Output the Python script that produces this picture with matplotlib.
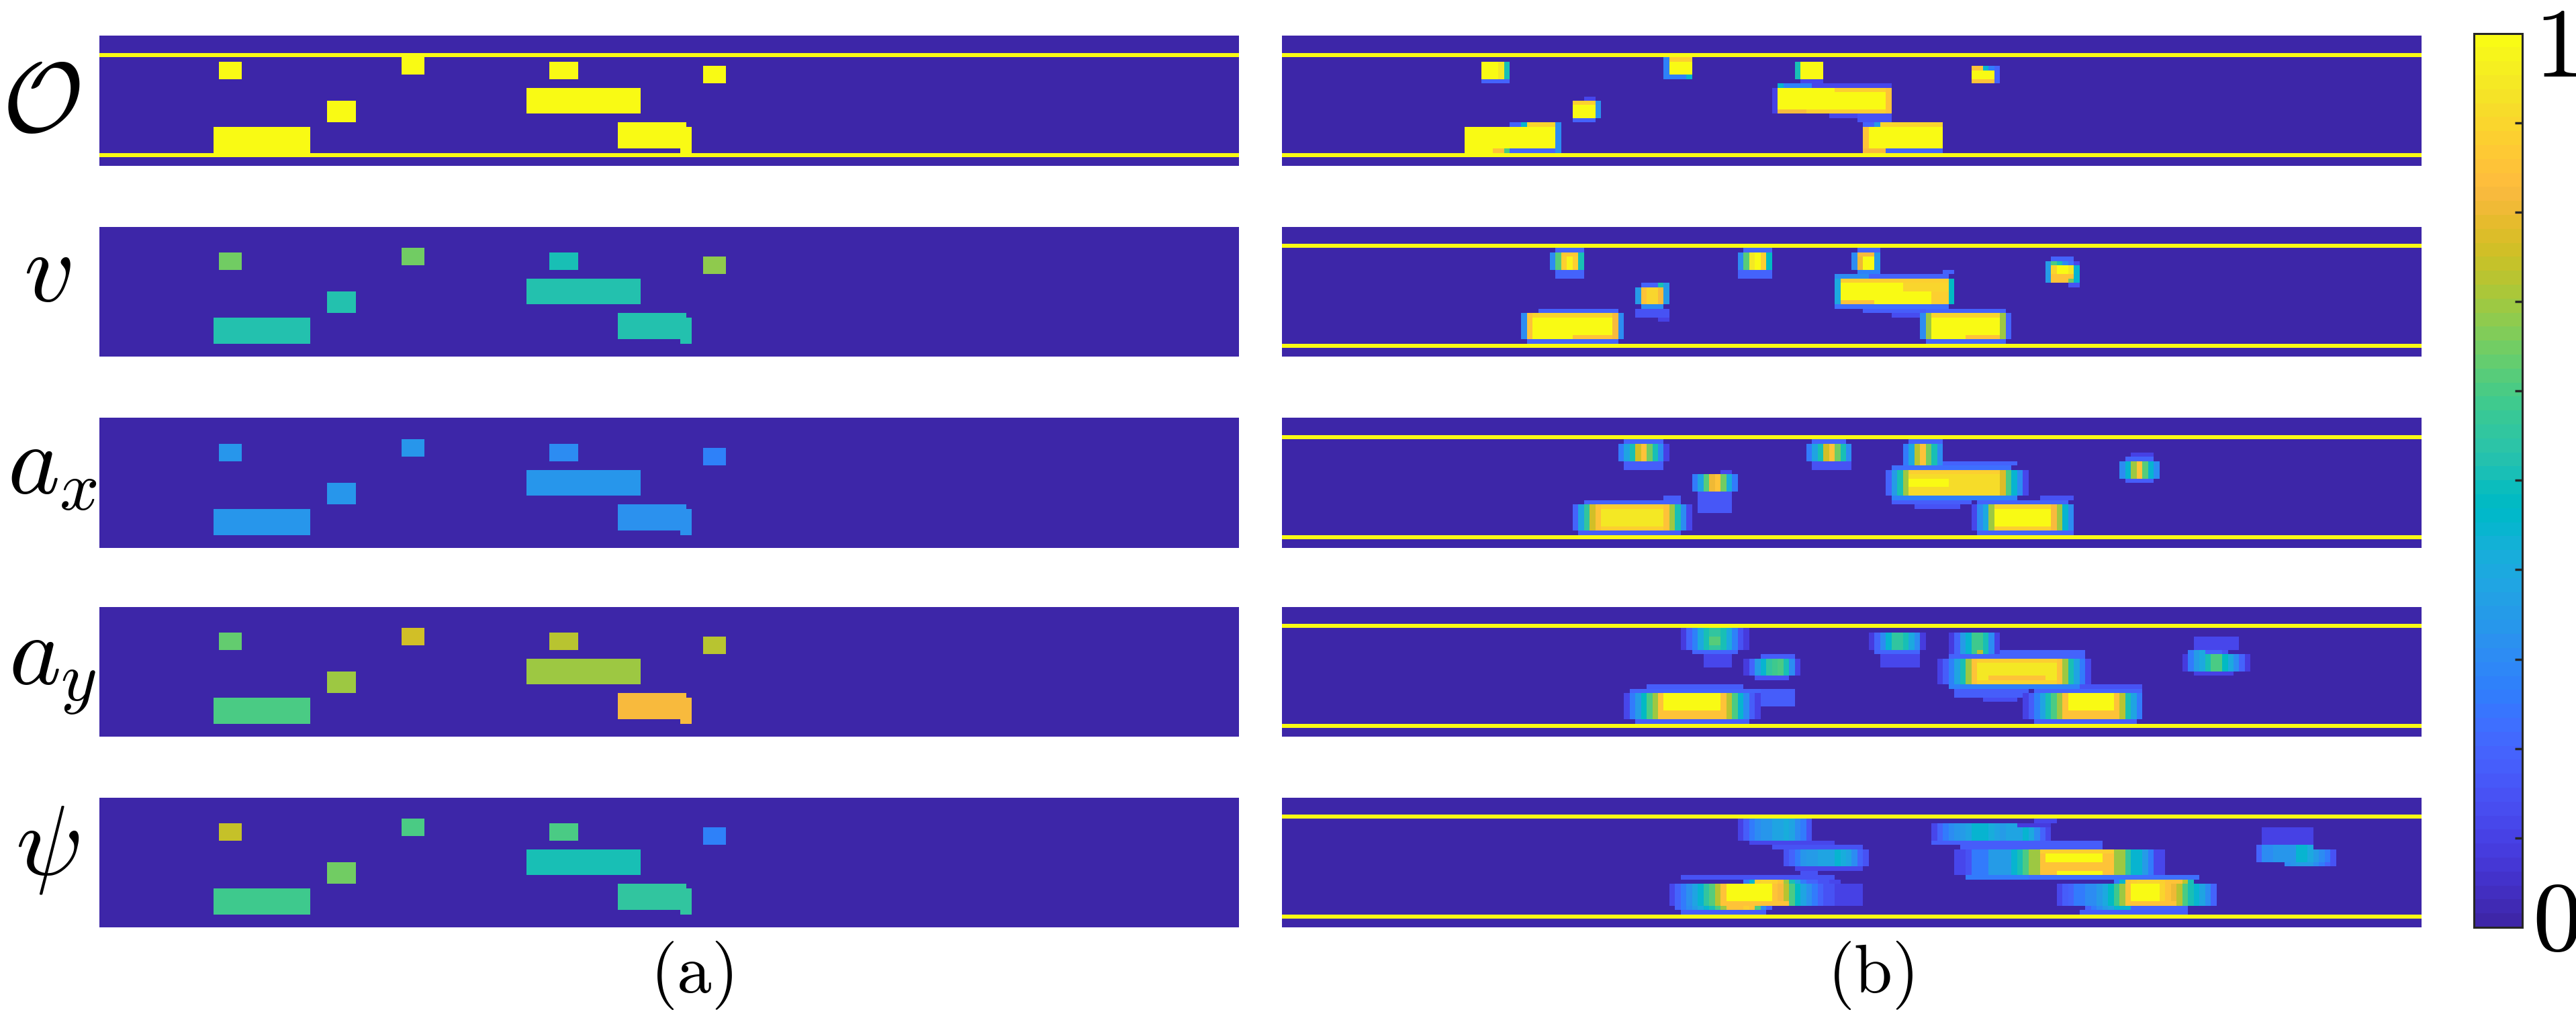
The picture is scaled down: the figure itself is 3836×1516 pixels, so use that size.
import numpy as np
import matplotlib
matplotlib.use('Agg')
import matplotlib.pyplot as plt
from matplotlib.colors import ListedColormap, Normalize
import matplotlib.cm as mcm

plt.rcParams['mathtext.fontset'] = 'cm'
plt.rcParams['font.family'] = ['DejaVu Serif']

# ---------------- data ----------------
N_ROWS, N_COLS = 30, 200
BORDER_ROWS = [4, 27]

row_labels = [r'$\mathcal{O}$', r'$v$', r'$a_x$', r'$a_y$', r'$\psi$']
col_labels = [r'$\mathrm{(a)}$', r'$\mathrm{(b)}$']
cbar_labels = [r'$0$', r'$1$']
cbar_ticks = [0.1, 0.2, 0.3, 0.4, 0.5, 0.6, 0.7, 0.8, 0.9]

# ground-truth vehicle boxes (row0, row1, col0, col1), inclusive
vehicle_boxes = [(6, 9, 21, 24), (5, 8, 53, 56), (6, 9, 79, 83), (7, 10, 106, 109),
                 (15, 19, 40, 44), (21, 26, 20, 36), (12, 17, 75, 94),
                 (20, 25, 91, 102), (21, 26, 102, 103)]
occ_vals = [1.0, 1.0, 1.0, 1.0, 1.0, 1.0, 1.0, 1.0, 1.0]
v_vals = [0.65, 0.65, 0.50, 0.68, 0.53, 0.53, 0.53, 0.53, 0.53]
ax_vals = [0.34, 0.34, 0.31, 0.28, 0.33, 0.33, 0.33, 0.32, 0.32]
ay_vals = [0.64, 0.75, 0.72, 0.72, 0.70, 0.60, 0.70, 0.82, 0.82]
psi_vals = [0.74, 0.60, 0.60, 0.28, 0.65, 0.59, 0.50, 0.56, 0.56]
truth_vals = [occ_vals, v_vals, ax_vals, ay_vals, psi_vals]

# predicted maps: (r0, r1, c0, c1, value) rectangles or (r0, r1, c0, [values]) strips, painted in order
pred_occ = [
    (10, 10, 35, 39, 0.2),
    (9, 9, 67, 70, 0.28), (9, 9, 71, 71, 0.45),
    (10, 10, 91, 94, 0.12),
    (11, 11, 87, 87, 0.45), (11, 11, 88, 92, 0.28), (11, 11, 93, 106, 0.12),
    (18, 18, 96, 106, 0.12), (12, 17, 86, 86, 0.1),
    (14, 14, 53, 54, 0.12), (19, 19, 51, 54, 0.2),
    (18, 19, 101, 106, 0.15),
    (20, 26, 48, 48, 0.3), (20, 20, 40, 41, 0.2), (20, 20, 42, 42, 0.45), (20, 20, 43, 47, 0.9),
    (6, 9, 35, [1.0, 1.0, 1.0, 0.95, 0.5]),
    (5, 8, 67, [0.28, 1.0, 1.0, 1.0, 1.0]), (5, 5, 68, 71, 0.88),
    (6, 9, 90, [0.5, 1.0, 1.0, 1.0, 1.0]),
    (12, 17, 87, 105, 1.0), (12, 17, 106, 106, 0.85), (17, 17, 87, 91, 0.82),
    (17, 17, 92, 105, 0.88), (12, 12, 97, 105, 0.88),
    (15, 18, 51, [1.0, 1.0, 1.0, 1.0, 0.32]), (15, 15, 51, 54, 0.88),
    (21, 26, 32, 47, 1.0), (26, 26, 37, 38, 0.85), (26, 26, 39, 39, 0.6), (26, 26, 40, 47, 0.2),
    (20, 20, 102, 103, 0.2), (20, 20, 104, 104, 0.35), (20, 20, 105, 115, 0.9),
    (21, 25, 102, 102, 0.85), (21, 25, 103, 115, 1.0), (26, 26, 102, 105, 0.82), (26, 26, 106, 115, 0.2),
    (7, 10, 125, 125, 0.2), (7, 10, 121, 124, 1.0), (7, 7, 121, 122, 0.85),
    (7, 7, 123, 123, 0.45), (7, 7, 124, 124, 0.25), (10, 10, 121, 124, 0.85),
]

pred_v = [
    (5, 5, 48, 52, 0.2), (10, 11, 48, 52, 0.2),
    (5, 5, 81, 85, 0.2), (10, 11, 80, 85, 0.2),
    (5, 5, 101, 104, 0.2), (10, 10, 101, 104, 0.28),
    (10, 10, 116, 117, 0.2), (11, 11, 97, 102, 0.3), (11, 11, 103, 116, 0.2),
    (18, 18, 97, 116, 0.22), (19, 19, 102, 115, 0.18), (20, 20, 107, 111, 0.14),
    (13, 13, 63, 65, 0.2), (13, 13, 66, 66, 0.5), (13, 13, 67, 67, 0.35),
    (18, 18, 63, 66, 0.3), (19, 20, 62, 67, 0.15), (21, 21, 66, 67, 0.1),
    (19, 19, 45, 58, 0.2), (26, 26, 43, 58, 0.2),
    (19, 19, 113, 126, 0.2), (26, 26, 113, 126, 0.2),
    (7, 7, 135, 138, 0.2), (13, 13, 138, 139, 0.15),
    (6, 9, 47, [0.3, 0.62, 0.88, 0.98, 0.88, 0.5]), (6, 6, 49, 51, 0.87),
    (6, 9, 80, [0.3, 0.62, 0.95, 1.0, 0.88, 0.48]),
    (6, 9, 100, [0.3, 0.8, 1.0, 1.0, 0.35]), (6, 6, 101, 103, 0.82),
    (12, 17, 97, 97, 0.4), (12, 17, 98, 116, 1.0), (12, 17, 117, 117, 0.48),
    (12, 12, 98, 116, 0.88), (13, 14, 109, 116, 0.9), (17, 17, 98, 103, 0.85), (15, 17, 114, 116, 0.88),
    (14, 17, 62, [0.35, 0.85, 0.9, 0.9, 0.82, 0.35]),
    (20, 25, 42, 42, 0.3), (20, 25, 43, 43, 0.85), (20, 25, 44, 57, 1.0),
    (20, 25, 58, 58, 0.82), (20, 25, 59, 59, 0.3), (20, 20, 44, 57, 0.9), (25, 25, 51, 57, 0.85),
    (20, 25, 112, 112, 0.3), (20, 25, 113, 113, 0.7), (20, 25, 114, 125, 1.0),
    (20, 25, 126, 126, 0.7), (20, 25, 127, 127, 0.2), (20, 20, 114, 125, 0.9), (25, 25, 120, 125, 0.85),
    (8, 8, 134, [0.35, 0.6, 0.5, 0.3, 0.22, 0.12]),
    (9, 12, 134, [0.35, 0.9, 1.0, 1.0, 0.95, 0.45]), (11, 12, 135, 138, 0.85), (12, 12, 138, 138, 0.65),
]

pred_ax = [
    (5, 5, 60, 66, 0.2), (10, 11, 60, 66, 0.18),
    (12, 12, 77, 78, 0.12), (17, 21, 73, 78, 0.17),
    (5, 5, 93, 98, 0.2), (10, 11, 93, 99, 0.15),
    (5, 5, 110, 115, 0.2),
    (10, 10, 116, 128, 0.2), (11, 11, 107, 127, 0.22), (18, 18, 107, 128, 0.28),
    (19, 19, 107, 120, 0.18), (20, 20, 111, 118, 0.15),
    (18, 18, 67, 69, 0.18), (19, 19, 53, 69, 0.2), (26, 26, 52, 69, 0.18),
    (18, 18, 133, 138, 0.15), (19, 19, 122, 137, 0.2), (26, 26, 122, 138, 0.2),
    (8, 8, 149, 152, 0.1), (9, 9, 148, 152, 0.2), (14, 14, 148, 152, 0.18),
    (6, 9, 59, [0.25, 0.38, 0.5, 0.75, 0.85, 0.65, 0.5, 0.3, 0.1]),
    (13, 16, 72, [0.25, 0.38, 0.62, 0.8, 0.85, 0.65, 0.42, 0.25]),
    (6, 9, 92, [0.25, 0.38, 0.5, 0.75, 0.85, 0.65, 0.5, 0.3]),
    (6, 10, 109, [0.25, 0.4, 0.72, 0.85, 0.65, 0.5, 0.3]),
    (12, 17, 106, [0.2, 0.35, 0.5, 0.7]), (12, 17, 110, 125, 0.92),
    (12, 17, 126, [0.78, 0.6, 0.45, 0.3, 0.12]), (14, 15, 110, 116, 1.0), (12, 12, 110, 125, 0.88),
    (20, 25, 51, [0.2, 0.38, 0.55, 0.75, 0.85]), (20, 25, 56, 66, 0.95),
    (20, 25, 67, [0.85, 0.7, 0.5, 0.3, 0.12]), (20, 20, 56, 66, 0.88), (25, 25, 56, 66, 0.88),
    (20, 25, 121, [0.12, 0.3, 0.4, 0.7]), (20, 25, 125, 134, 1.0),
    (20, 25, 135, [0.82, 0.7, 0.45, 0.3]), (20, 20, 125, 134, 0.9), (25, 25, 125, 134, 0.88),
    (10, 13, 147, [0.3, 0.45, 0.7, 0.85, 0.62, 0.45, 0.3]),
]

pred_ay = [
    (11, 13, 74, 78, 0.12), (10, 10, 72, 79, 0.2),
    (11, 11, 84, 89, 0.18), (16, 16, 83, 88, 0.15),
    (10, 10, 104, 111, 0.2), (11, 13, 105, 111, 0.12),
    (10, 11, 117, 140, 0.19), (18, 18, 117, 140, 0.28), (19, 20, 118, 130, 0.18), (21, 21, 123, 128, 0.14),
    (18, 18, 64, 80, 0.18), (19, 19, 61, 83, 0.2), (19, 22, 84, 89, 0.18), (26, 26, 62, 81, 0.18),
    (18, 18, 140, 150, 0.15), (19, 19, 132, 150, 0.2), (26, 26, 132, 149, 0.18),
    (7, 9, 160, 167, 0.12), (15, 15, 160, 166, 0.1),
    (5, 9, 70, [0.08, 0.2, 0.28, 0.4, 0.5, 0.56, 0.56, 0.5, 0.4, 0.28, 0.15, 0.08]), (7, 8, 75, 76, 0.62),
    (12, 15, 81, [0.08, 0.2, 0.35, 0.45, 0.55, 0.58, 0.6, 0.5, 0.3, 0.1]),
    (6, 9, 103, [0.08, 0.2, 0.3, 0.45, 0.55, 0.55, 0.5, 0.4, 0.3, 0.08]),
    (6, 10, 117, [0.08, 0.2, 0.35, 0.45, 0.58, 0.58, 0.5, 0.3, 0.1]), (10, 10, 122, 122, 0.72),
    (12, 17, 115, [0.1, 0.18, 0.28, 0.38, 0.5, 0.7, 0.85]), (12, 17, 122, 135, 0.95),
    (12, 17, 136, [0.85, 0.7, 0.5, 0.38, 0.25, 0.12]), (12, 12, 122, 135, 0.88),
    (16, 16, 124, 133, 0.85), (17, 17, 122, 135, 0.9),
    (20, 25, 60, [0.12, 0.25, 0.35, 0.48, 0.6, 0.7, 0.85]), (20, 25, 67, 76, 1.0),
    (20, 25, 77, [0.85, 0.72, 0.6, 0.45, 0.3, 0.18, 0.1]), (24, 25, 66, 77, 0.85),
    (20, 25, 130, [0.1, 0.18, 0.28, 0.38, 0.5, 0.6, 0.7, 0.85]), (20, 25, 138, 145, 1.0),
    (20, 25, 146, [0.85, 0.72, 0.5, 0.38, 0.25]), (24, 25, 137, 146, 0.85),
    (10, 10, 159, [0.25, 0.35, 0.4, 0.2, 0.2, 0.2, 0.15]),
    (11, 14, 158, [0.08, 0.25, 0.35, 0.4, 0.5, 0.6, 0.6, 0.48, 0.4, 0.3, 0.2, 0.08]),
]

pred_psi = [
    (10, 10, 82, 96, 0.12),
    (11, 11, 86, 101, 0.15), (16, 16, 90, 101, 0.12), (17, 17, 91, 93, 0.15),
    (5, 5, 132, 135, 0.12), (10, 10, 114, 143, 0.18),
    (11, 11, 119, 143, 0.18), (18, 18, 120, 150, 0.25),
    (18, 18, 70, 96, 0.15), (26, 26, 70, 84, 0.18),
    (18, 18, 131, 160, 0.22), (26, 26, 140, 158, 0.18),
    (7, 10, 172, 180, 0.1),
    (5, 9, 80, [0.1, 0.18, 0.25, 0.3, 0.33, 0.33, 0.38, 0.38, 0.42, 0.38, 0.3, 0.25, 0.15]),
    (12, 15, 88, [0.15, 0.2, 0.25, 0.33, 0.35, 0.35, 0.38, 0.38, 0.38, 0.45, 0.42, 0.38, 0.3, 0.2, 0.15]),
    (6, 9, 114, [0.12, 0.2, 0.25, 0.3, 0.33, 0.35, 0.38, 0.45, 0.45, 0.45, 0.42, 0.38, 0.35,
                 0.38, 0.38, 0.38, 0.45, 0.4, 0.3, 0.2, 0.12]),
    (6, 6, 129, 134, 0.08),
    (12, 17, 118, [0.12, 0.12, 0.15, 0.25, 0.25, 0.25, 0.35, 0.35, 0.35, 0.35, 0.45, 0.5, 0.6, 0.7, 0.7, 0.85]),
    (12, 17, 134, 143, 1.0),
    (12, 17, 144, [0.85, 0.85, 0.7, 0.7, 0.55, 0.45, 0.45, 0.35, 0.25, 0.12, 0.12]),
    (12, 12, 133, 145, 0.88), (15, 16, 133, 145, 0.85), (17, 17, 133, 135, 0.85),
    (19, 19, 81, [0.25, 0.45, 0.88, 0.9, 0.9, 0.88, 0.85, 0.7, 0.5, 0.38, 0.25, 0.2, 0.2, 0.15, 0.15, 0.12, 0.12]),
    (20, 24, 68, [0.12, 0.2, 0.25, 0.32, 0.38, 0.45, 0.55, 0.62, 0.72, 0.85]), (20, 24, 78, 85, 1.0),
    (20, 24, 86, [0.85, 0.82, 0.72, 0.6, 0.48, 0.38, 0.32, 0.25, 0.2, 0.15, 0.15, 0.1, 0.1, 0.1, 0.1, 0.1]),
    (24, 24, 78, 88, 0.85),
    (25, 25, 69, [0.2, 0.25, 0.3, 0.35, 0.4, 0.45, 0.5, 0.6, 0.7, 0.85, 0.85, 0.85, 0.88, 0.85, 0.6, 0.3, 0.2]),
    (19, 19, 146, [0.25, 0.45, 0.85, 0.88, 0.9, 0.9, 0.9, 0.9, 0.88, 0.85, 0.85, 0.85, 0.72, 0.5]),
    (20, 24, 136, [0.12, 0.18, 0.2, 0.25, 0.25, 0.3, 0.3, 0.35, 0.4, 0.48, 0.58, 0.7, 0.85]),
    (20, 24, 149, 153, 1.0),
    (20, 24, 154, [0.9, 0.85, 0.8, 0.72, 0.6, 0.5, 0.45, 0.38, 0.3, 0.2]),
    (24, 24, 148, 156, 0.85),
    (25, 25, 141, [0.2, 0.25, 0.3, 0.35, 0.38, 0.45, 0.45, 0.45, 0.2, 0.2, 0.2, 0.2, 0.2, 0.2, 0.2, 0.2, 0.2, 0.2]),
    (11, 11, 171, [0.2, 0.3, 0.3, 0.33, 0.33, 0.33, 0.33, 0.45, 0.45, 0.4]),
    (12, 14, 171, [0.2, 0.3, 0.3, 0.33, 0.33, 0.33, 0.33, 0.45, 0.45, 0.4, 0.35, 0.3, 0.25, 0.15]),
    (15, 15, 176, [0.3, 0.33, 0.35, 0.35, 0.35, 0.3, 0.25, 0.2, 0.15]),
]
pred_maps = [pred_occ, pred_v, pred_ax, pred_ay, pred_psi]

# MATLAB parula (64 levels)
parula_rgb = [
    [0.2422, 0.1504, 0.6603], [0.2504, 0.1650, 0.7076], [0.2578, 0.1818, 0.7511], [0.2647, 0.1978, 0.7952],
    [0.2706, 0.2147, 0.8364], [0.2751, 0.2342, 0.8710], [0.2783, 0.2559, 0.8991], [0.2803, 0.2782, 0.9221],
    [0.2813, 0.3006, 0.9414], [0.2810, 0.3228, 0.9579], [0.2795, 0.3447, 0.9717], [0.2760, 0.3667, 0.9829],
    [0.2699, 0.3892, 0.9906], [0.2602, 0.4123, 0.9952], [0.2440, 0.4358, 0.9988], [0.2206, 0.4603, 0.9973],
    [0.1963, 0.4847, 0.9892], [0.1834, 0.5074, 0.9798], [0.1786, 0.5289, 0.9682], [0.1764, 0.5499, 0.9520],
    [0.1687, 0.5703, 0.9359], [0.1540, 0.5902, 0.9218], [0.1460, 0.6091, 0.9079], [0.1380, 0.6276, 0.8973],
    [0.1248, 0.6459, 0.8883], [0.1113, 0.6635, 0.8763], [0.0952, 0.6798, 0.8598], [0.0689, 0.6948, 0.8394],
    [0.0297, 0.7082, 0.8163], [0.0036, 0.7203, 0.7917], [0.0067, 0.7312, 0.7660], [0.0433, 0.7411, 0.7394],
    [0.0964, 0.7500, 0.7120], [0.1408, 0.7584, 0.6842], [0.1717, 0.7670, 0.6554], [0.1938, 0.7758, 0.6251],
    [0.2161, 0.7843, 0.5923], [0.2470, 0.7918, 0.5567], [0.2906, 0.7973, 0.5188], [0.3406, 0.8008, 0.4789],
    [0.3909, 0.8029, 0.4354], [0.4456, 0.8024, 0.3909], [0.5044, 0.7993, 0.3480], [0.5616, 0.7942, 0.3045],
    [0.6174, 0.7876, 0.2612], [0.6720, 0.7793, 0.2227], [0.7242, 0.7698, 0.1910], [0.7738, 0.7598, 0.1646],
    [0.8203, 0.7498, 0.1535], [0.8634, 0.7406, 0.1596], [0.9035, 0.7330, 0.1774], [0.9393, 0.7288, 0.2100],
    [0.9728, 0.7298, 0.2394], [0.9956, 0.7434, 0.2371], [0.9970, 0.7659, 0.2199], [0.9952, 0.7893, 0.2028],
    [0.9892, 0.8136, 0.1885], [0.9786, 0.8386, 0.1766], [0.9676, 0.8639, 0.1643], [0.9610, 0.8890, 0.1537],
    [0.9597, 0.9135, 0.1423], [0.9628, 0.9373, 0.1265], [0.9691, 0.9606, 0.1064], [0.9769, 0.9839, 0.0805],
]
parula = ListedColormap(parula_rgb, name='parula')

# ---------------- layout (pixels) ----------------
W, H = 3837, 1516
LEFT_X = (148, 1845)
RIGHT_X = (1909, 3606)
ROW_TOPS = [53.3, 338.0, 622.3, 904.0, 1187.7]
PANEL_H = 193.5
CBAR = (3684, 49.5, 3756, 1381)


def frac_rect(x0, y0, x1, y1):
    return [x0 / W, 1 - y1 / H, (x1 - x0) / W, (y1 - y0) / H]


def paint(grid, entries):
    for e in entries:
        if len(e) == 5:
            r0, r1, c0, c1, v = e
            grid[r0:r1 + 1, c0:c1 + 1] = v
        else:
            r0, r1, c0, vals = e
            grid[r0:r1 + 1, c0:c0 + len(vals)] = vals


fig = plt.figure(figsize=(W / 100, H / 100), dpi=100)


def show(ax, grid):
    ax.imshow(grid, cmap=parula, vmin=0, vmax=1, aspect='auto', interpolation='nearest')
    ax.set_xticks([])
    ax.set_yticks([])
    for s in ax.spines.values():
        s.set_visible(False)


for i, top in enumerate(ROW_TOPS):
    # (a) ground truth
    g = np.zeros((N_ROWS, N_COLS))
    for (r0, r1, c0, c1), v in zip(vehicle_boxes, truth_vals[i]):
        g[r0:r1 + 1, c0:c1 + 1] = v
    if i == 0:
        g[BORDER_ROWS, :] = 1.0
    axl = fig.add_axes(frac_rect(LEFT_X[0], top, LEFT_X[1], top + PANEL_H))
    show(axl, g)
    # (b) prediction
    p = np.zeros((N_ROWS, N_COLS))
    paint(p, pred_maps[i])
    p[BORDER_ROWS, :] = 1.0
    axr = fig.add_axes(frac_rect(RIGHT_X[0], top, RIGHT_X[1], top + PANEL_H))
    show(axr, p)

# colorbar
cax = fig.add_axes(frac_rect(*CBAR))
sm = mcm.ScalarMappable(norm=Normalize(0, 1), cmap=parula)
cb = fig.colorbar(sm, cax=cax, ticks=cbar_ticks)
cb.outline.set_edgecolor('#262626')
cb.outline.set_linewidth(2.2)
cax.tick_params(axis='y', which='both', direction='in', length=8, width=2.5, color='#262626',
                right=True, left=False, labelright=False, labelleft=False)


def ftext(x, y, s, size, ha='center', va='baseline'):
    fig.text(x / W, 1 - y / H, s, fontsize=size, ha=ha, va=va, color='black')


# row labels
label_x = [61, 70, 78, 78, 71]
label_base = [196, 448, 734, 1018, 1302]
for s, x, y in zip(row_labels, label_x, label_base):
    ftext(x, y, s, 106)

# column labels
ftext(1030, 1478, col_labels[0], 74)
ftext(2785, 1478, col_labels[1], 74)

# colorbar end labels
ftext(3806, 1415, cbar_labels[0], 106)
ftext(3806, 2, cbar_labels[1], 106, va='top')

fig.savefig('out.png', dpi=100)
